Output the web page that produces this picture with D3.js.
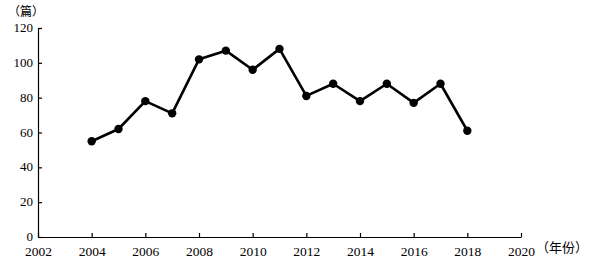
<!DOCTYPE html>
<html>
<head>
<meta charset="utf-8">
<script src="https://cdn.jsdelivr.net/npm/d3@7"></script>
<style>
  body { margin: 0; background: #fff; }
  text { font-family: "Liberation Serif", "Times New Roman", serif; }
</style>
</head>
<body>
<svg id="chart" width="589" height="264"></svg>
<script>
const years = [2004, 2005, 2006, 2007, 2008, 2009, 2010, 2011, 2012, 2013, 2014, 2015, 2016, 2017, 2018];
const counts = [55, 62, 78, 71, 102, 107, 96, 108, 81, 88, 78, 88, 77, 88, 61];
const xTicks = [2002, 2004, 2006, 2008, 2010, 2012, 2014, 2016, 2018, 2020];
const yTicks = [0, 20, 40, 60, 80, 100, 120];

const svg = d3.select("#chart");
const plotLeft = 38, plotRight = 521, plotTop = 28, plotBottom = 237;

let x = d3.scaleLinear().domain([2002, 2020]).range([plotLeft, plotRight]);
let y = d3.scaleLinear().domain([0, 120]).range([plotBottom, plotTop]);

// x axis, ticks pointing up
let xAxis = svg.append("g")
  .attr("transform", "translate(0," + plotBottom + ")")
  .call(d3.axisBottom(x).tickValues(xTicks).tickFormat(d3.format("d")).tickSize(-4).tickPadding(7).tickSizeOuter(0));
xAxis.selectAll("text").attr("dy", "0.9em").style("font-size", "13.5px").attr("fill", "#000");

// y axis, ticks pointing right
let yAxis = svg.append("g")
  .attr("transform", "translate(" + plotLeft + ",0)")
  .call(d3.axisLeft(y).tickValues(yTicks).tickSize(-4).tickPadding(5).tickSizeOuter(0));
yAxis.selectAll("text").attr("dy", "0.28em").style("font-size", "13px").attr("fill", "#000");

svg.selectAll(".domain, .tick line").attr("stroke", "#000").attr("stroke-width", 1.2);

// unit labels
svg.append("text")
  .attr("x", 8).attr("y", 16)
  .text("（篇）")
  .style("font-family", "Noto Sans CJK SC")
  .style("font-size", "12px");
svg.append("text")
  .attr("x", 536).attr("y", 252)
  .text("（年份）")
  .style("font-family", "Noto Sans CJK SC")
  .style("font-size", "13px");

let data = years.map((yr, i) => ({year: yr, count: counts[i]}));

svg.append("path")
  .datum(data)
  .attr("fill", "none")
  .attr("stroke", "#000")
  .attr("stroke-width", 2.6)
  .attr("stroke-linejoin", "round")
  .attr("d", d3.line().x(d => x(d.year)).y(d => y(d.count)));

svg.selectAll(".dot")
  .data(data)
  .enter()
  .append("circle")
    .attr("cx", d => x(d.year))
    .attr("cy", d => y(d.count))
    .attr("r", 4.2)
    .attr("fill", "#000");
</script>
</body>
</html>
